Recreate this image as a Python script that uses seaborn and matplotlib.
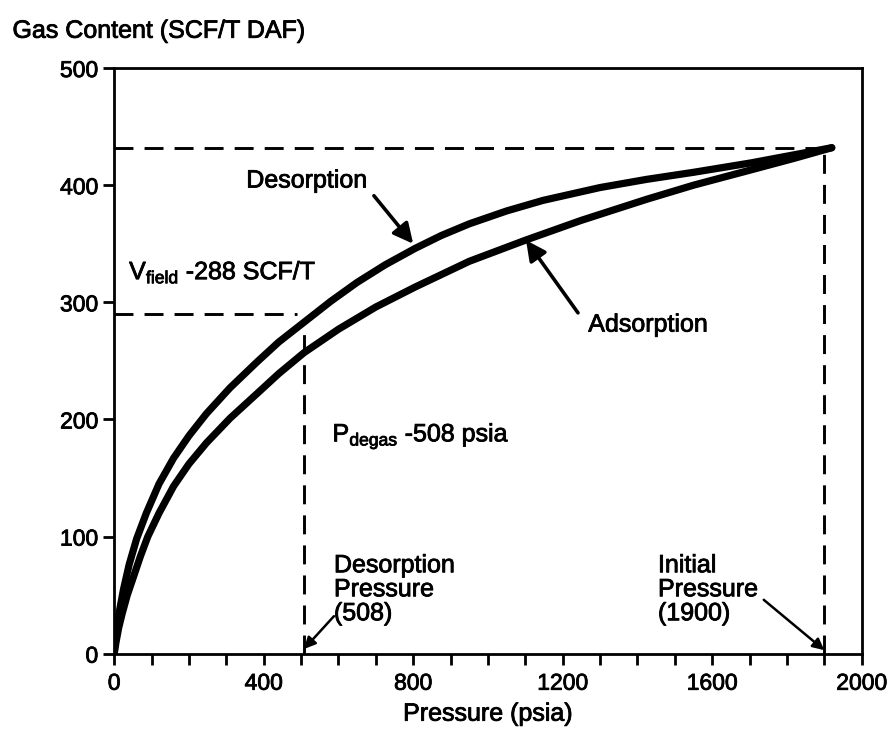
import numpy as np
import pandas as pd
import matplotlib
matplotlib.use("Agg")
import matplotlib.pyplot as plt
import matplotlib.patheffects as pe
import seaborn as sns

# values
des_p = [0, 3, 8, 15, 25, 40, 60, 86, 120, 159, 200, 247, 310, 382, 440, 508,
         580, 650, 725, 805, 875, 950, 1050, 1147, 1300, 1425, 1550, 1703, 1820, 1920]
des_gas = [0, 12, 25, 38, 55, 76, 98, 120, 145, 167, 186, 205, 227, 249, 266, 283,
           301, 317, 332, 346, 357, 367, 378, 387, 398, 405, 411, 419, 426, 432]

ads_p = [0, 5, 12, 22, 35, 51, 70, 90, 120, 159, 200, 247, 310, 382, 440, 508,
         600, 700, 805, 950, 1100, 1250, 1425, 1550, 1703, 1820, 1920]
ads_gas = [0, 10, 22, 35, 50, 65, 83, 100, 120, 143, 162, 180, 201, 222, 239, 257,
           277, 296, 313, 335, 353, 370, 388, 400, 413, 423, 432]

v_field = 288
p_degas = 508
p_initial = 1900
gas_initial = 432

x_ticks = [0, 400, 800, 1200, 1600, 2000]
y_ticks = [0, 100, 200, 300, 400, 500]

sns.set_style("ticks")
plt.rcParams['font.family'] = ['Liberation Sans', 'DejaVu Sans']
plt.rcParams['mathtext.fontset'] = 'custom'
plt.rcParams['mathtext.rm'] = 'Liberation Sans'
plt.rcParams['text.color'] = 'black'
plt.rcParams['axes.labelcolor'] = 'black'

fig = plt.figure(figsize=(8.92, 7.32), dpi=100)
ax = fig.add_axes([0.128, 0.107, 0.838, 0.800])

curves = pd.concat([
    pd.DataFrame({"p": des_p, "gas": des_gas, "kind": "Desorption"}),
    pd.DataFrame({"p": ads_p, "gas": ads_gas, "kind": "Adsorption"}),
])
sns.lineplot(data=curves, x="p", y="gas", units="kind", estimator=None,
             color="black", lw=5.2, sort=False, ax=ax, legend=False,
             solid_capstyle="round", solid_joinstyle="round")

dash = dict(color="black", lw=2.1, dashes=(6.5, 3.8))
ax.plot([0, p_initial], [gas_initial, gas_initial], **dash)
ax.plot([p_initial, p_initial], [0, gas_initial], **dash)
ax.plot([0, 490], [v_field + 2, v_field + 2], **dash)
ax.plot([p_degas, p_degas], [0, 282], **dash)

ax.set_xlim(0, 2000)
ax.set_ylim(0, 500)
ax.set_xticks(x_ticks)
ax.set_yticks(y_ticks)
ax.set_xticks(np.arange(0, 2001, 100), minor=True)
ax.tick_params(axis="both", which="both", direction="out", length=8, width=2,
               labelsize=16.5, colors="black")
ax.tick_params(axis="x", pad=5)
for s in ax.spines.values():
    s.set_linewidth(2)
    s.set_color("black")

ax.set_xlabel("Pressure (psia)", fontsize=18, labelpad=5)
ax.set_ylabel("")
fig.text(0.014, 0.958, "Gas Content (SCF/T DAF)", fontsize=18, va="center")

fs = 18
big = dict(arrowstyle="-|>", color="black", lw=2.6, mutation_scale=30,
           shrinkA=0, shrinkB=0)
ax.text(515, 404, "Desorption", fontsize=fs, ha="center", va="center")
ax.annotate("", xy=(800, 350), xytext=(695, 391), arrowprops=big)
ax.text(1428, 281, "Adsorption", fontsize=fs, ha="center", va="center")
ax.annotate("", xy=(1102, 353), xytext=(1241, 291), arrowprops=big)

ax.text(40, 326, r"V$_{\mathregular{field}}$ -288 SCF/T", fontsize=fs, va="center")
ax.text(584, 186, r"P$_{\mathregular{degas}}$ -508 psia", fontsize=fs, va="center")

small = dict(arrowstyle="-|>", color="black", lw=1.8, mutation_scale=17,
             shrinkA=0, shrinkB=0)
ax.text(588, 55, "Desorption\nPressure\n(508)", fontsize=fs, ha="left",
        va="center", linespacing=1.0)
ax.annotate("", xy=(p_degas, 4), xytext=(588, 32), arrowprops=small)
ax.text(1455, 55, "Initial\nPressure\n(1900)", fontsize=fs, ha="left",
        va="center", linespacing=1.0)
ax.annotate("", xy=(p_initial, 3), xytext=(1738, 46), arrowprops=small)

# thicken glyphs a little, like the scanned original
for t in fig.findobj(matplotlib.text.Text):
    if t.get_text():
        t.set_path_effects([pe.withStroke(linewidth=0.6, foreground="black")])

fig.savefig("out.png", dpi=100)
